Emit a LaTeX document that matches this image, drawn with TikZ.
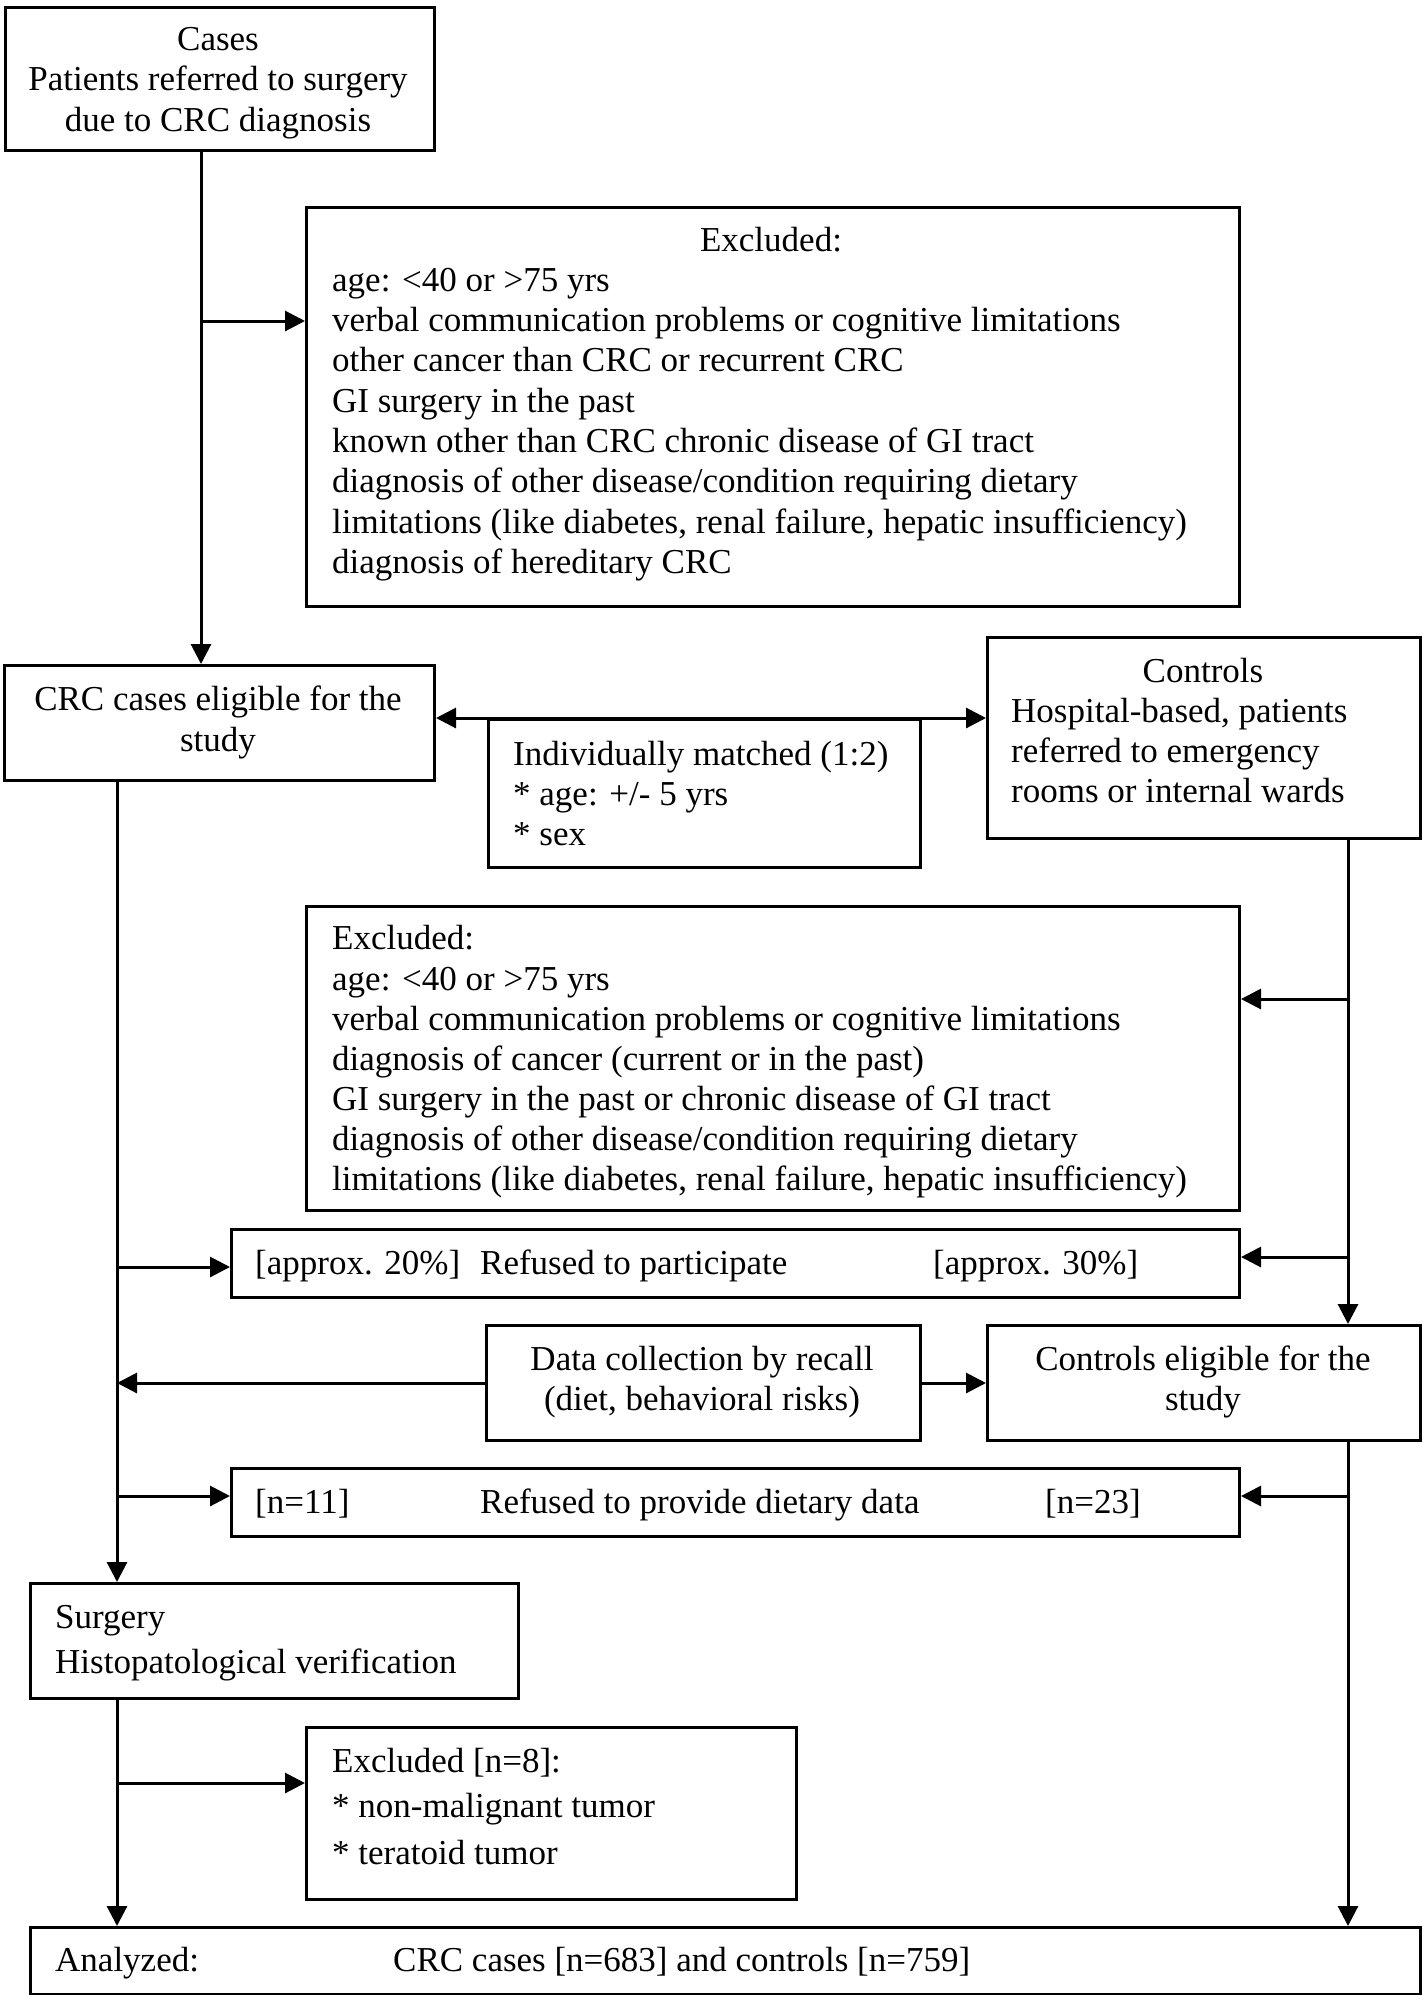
\documentclass[tikz,border=0pt]{standalone}
\usepackage{fontspec}
\setmainfont{Liberation Serif}
\usetikzlibrary{arrows.meta}
\begin{document}
\begin{tikzpicture}[x=1pt,y=-1pt,
  box/.style={draw, line width=3pt, inner sep=0pt, anchor=north west},
  txt/.style={inner sep=0pt, font=\fontsize{35}{40}\selectfont},
  tl/.style={txt, anchor=base west},
  tc/.style={txt, anchor=base},
  conn/.style={line width=3pt},
  arr/.style={conn, -{Triangle[length=20pt,width=20pt]}},
  darr/.style={conn, {Triangle[length=20pt,width=20pt]}-{Triangle[length=20pt,width=20pt]}}
]
\useasboundingbox (0,0) rectangle (1423,1995);

% boxes
\node[box, minimum width=429pt, minimum height=143pt] (cases) at (4,6) {};
\node[box, minimum width=933pt, minimum height=399pt] (excl1) at (305,206) {};
\node[box, minimum width=430pt, minimum height=115pt] (crc) at (3,664) {};
\node[box, minimum width=432pt, minimum height=148pt] (match) at (487,718) {};
\node[box, minimum width=433pt, minimum height=201pt] (controls) at (986,636) {};
\node[box, minimum width=933pt, minimum height=304pt] (excl2) at (305,905) {};
\node[box, minimum width=1008pt, minimum height=68pt] (refpart) at (230,1228) {};
\node[box, minimum width=434pt, minimum height=115pt] (datacol) at (485,1324) {};
\node[box, minimum width=433pt, minimum height=115pt] (ctrlelig) at (986,1324) {};
\node[box, minimum width=1008pt, minimum height=68pt] (refdiet) at (230,1467) {};
\node[box, minimum width=488pt, minimum height=115pt] (surgery) at (29,1582) {};
\node[box, minimum width=490pt, minimum height=172pt] (excl3) at (305,1726) {};
\node[box, minimum width=1390pt, minimum height=67pt] (analyzed) at (29,1926) {};

% texts
\node[tc] (t1a) at (218,50) {Cases};
\node[tc] (t1b) at (218,90) {Patients referred to surgery};
\node[tc] (t1c) at (218,131) {due to CRC diagnosis};

\node[tc] (t2a) at (771,251) {Excluded:};
\node[tl] (t2b) at (332,291) {age: <40 or >75 yrs};
\node[tl] (t2c) at (332,331) {verbal communication problems or cognitive limitations};
\node[tl] (t2d) at (332,371) {other cancer than CRC or recurrent CRC};
\node[tl] (t2e) at (332,412) {GI surgery in the past};
\node[tl] (t2f) at (332,452) {known other than CRC chronic disease of GI tract};
\node[tl] (t2g) at (332,492) {diagnosis of other disease/condition requiring dietary};
\node[tl] (t2h) at (332,533) {limitations (like diabetes, renal failure, hepatic insufficiency)};
\node[tl] (t2i) at (332,573) {diagnosis of hereditary CRC};

\node[tc] (t3a) at (218,710) {CRC cases eligible for the};
\node[tc] (t3b) at (218,751) {study};

\node[tl] (t4a) at (513,765) {Individually matched (1:2)};
\node[tl] (t4b) at (513,805) {* age: +/- 5 yrs};
\node[tl] (t4c) at (513,845) {* sex};

\node[tc] (t5a) at (1203,682) {Controls};
\node[tl] (t5b) at (1011,722) {Hospital-based, patients};
\node[tl] (t5c) at (1011,762) {referred to emergency};
\node[tl] (t5d) at (1011,802) {rooms or internal wards};

\node[tl] (t6a) at (332,949) {Excluded:};
\node[tl] (t6b) at (332,990) {age: <40 or >75 yrs};
\node[tl] (t6c) at (332,1030) {verbal communication problems or cognitive limitations};
\node[tl] (t6d) at (332,1070) {diagnosis of cancer (current or in the past)};
\node[tl] (t6e) at (332,1110) {GI surgery in the past or chronic disease of GI tract};
\node[tl] (t6f) at (332,1150) {diagnosis of other disease/condition requiring dietary};
\node[tl] (t6g) at (332,1190) {limitations (like diabetes, renal failure, hepatic insufficiency)};

\node[tl] (t7a) at (255,1274) {[approx. 20\%]};
\node[tl] (t7b) at (480,1274) {Refused to participate};
\node[tl] (t7c) at (933,1274) {[approx. 30\%]};

\node[tc] (t8a) at (702,1370) {Data collection by recall};
\node[tc] (t8b) at (702,1410) {(diet, behavioral risks)};

\node[tc] (t9a) at (1203,1370) {Controls eligible for the};
\node[tc] (t9b) at (1203,1410) {study};

\node[tl] (t10a) at (255,1513) {[n=11]};
\node[tl] (t10b) at (480,1513) {Refused to provide dietary data};
\node[tl] (t10c) at (1045,1513) {[n=23]};

\node[tl] (t11a) at (55,1628) {Surgery};
\node[tl] (t11b) at (55,1673) {Histopatological verification};

\node[tl] (t12a) at (332,1772) {Excluded [n=8]:};
\node[tl] (t12b) at (332,1817) {* non-malignant tumor};
\node[tl] (t12c) at (332,1864) {* teratoid tumor};

\node[tl] (t13a) at (55,1971) {Analyzed:};
\node[tl] (t13b) at (393,1971) {CRC cases [n=683] and controls [n=759]};

% line positions
\coordinate (xa) at (201,0);
\coordinate (xb) at (117,0);
\coordinate (xc) at (1348,0);
\coordinate (ya) at (0,321);
\coordinate (yb) at (0,1267);
\coordinate (yc) at (0,1496);
\coordinate (yd) at (0,999);
\coordinate (ye) at (0,1257);
\coordinate (yf) at (0,1783);

% connectors
\draw[arr] (cases.south -| xa) -- (crc.north -| xa);
\draw[arr] (xa |- ya) -- (excl1.west |- ya);
\draw[darr] (crc.east |- match.north) -- (controls.west |- match.north);
\draw[arr] (crc.south -| xb) -- (surgery.north -| xb);
\draw[arr] (xb |- yb) -- (refpart.west |- yb);
\draw[arr] (datacol.west) -- (datacol.west -| xb);
\draw[arr] (xb |- yc) -- (refdiet.west |- yc);
\draw[arr] (controls.south -| xc) -- (ctrlelig.north -| xc);
\draw[arr] (xc |- yd) -- (excl2.east |- yd);
\draw[arr] (xc |- ye) -- (refpart.east |- ye);
\draw[arr] (datacol.east) -- (ctrlelig.west);
\draw[arr] (ctrlelig.south -| xc) -- (analyzed.north -| xc);
\draw[arr] (xc |- yc) -- (refdiet.east |- yc);
\draw[arr] (surgery.south -| xb) -- (analyzed.north -| xb);
\draw[arr] (xb |- yf) -- (excl3.west |- yf);
\end{tikzpicture}
\end{document}
